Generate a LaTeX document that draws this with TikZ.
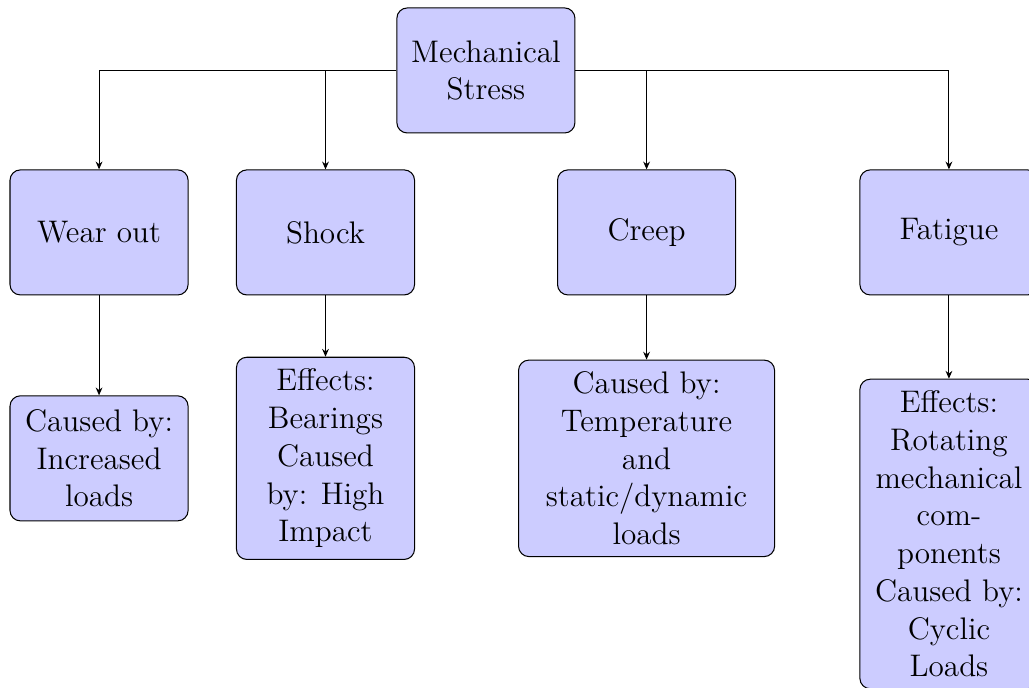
\documentclass[tikz,border=0pt]{standalone}
\usetikzlibrary{positioning}
\usetikzlibrary{arrows.meta}

\begin{document}
\begin{tikzpicture}[x=1pt,y=1pt,every node/.style = {align=center},
    box/.style = {draw, rounded corners, fill=blue!20, inner sep=4.5pt,
        minimum width=68.5pt, minimum height=48.1pt,
        font=\fontsize{12}{14.5}\selectfont},
    link/.style = {-{Stealth[length=3pt,width=2.6pt]}}]
\useasboundingbox (0,0) rectangle (395.8,-264.6);
\node[box] (stress) at (186.9,-27.1) {Mechanical\\Stress};
\node[box] (wear) at (38.1,-89.4) {Wear out};
\node[box] (shock) at (125.2,-89.4) {Shock};
\node[box] (creep) at (248.7,-89.4) {Creep};
\node[box] (fatigue) at (365.0,-89.4) {Fatigue};
\node[box] (wearcause) at (38.1,-176.3) {Caused by:\\Increased\\loads};
\node[box] (shockcause) at (125.2,-176.3) {Effects:\\Bearings\\Caused\\by: High\\Impact};
\node[box, minimum width=98.5pt] (creepcause) at (248.7,-176.3)
    {Caused by:\\Temperature\\and\\static/dynamic\\loads};
\node[box, below=32pt of fatigue] (fatiguecause)
    {Effects:\\Rotating\\mechanical\\com-\\ponents\\Caused by:\\Cyclic\\Loads};
\draw [link] (stress.west) -| (wear.north);
\draw [link] (stress.west) -| (shock.north);
\draw [link] (stress.east) -| (creep.north);
\draw [link] (stress.east) -| (fatigue.north);
\draw [link] (wear) -- (wearcause);
\draw [link] (shock) -- (shockcause);
\draw [link] (creep) -- (creepcause);
\draw [link] (fatigue) -- (fatiguecause);
\end{tikzpicture}
\end{document}
